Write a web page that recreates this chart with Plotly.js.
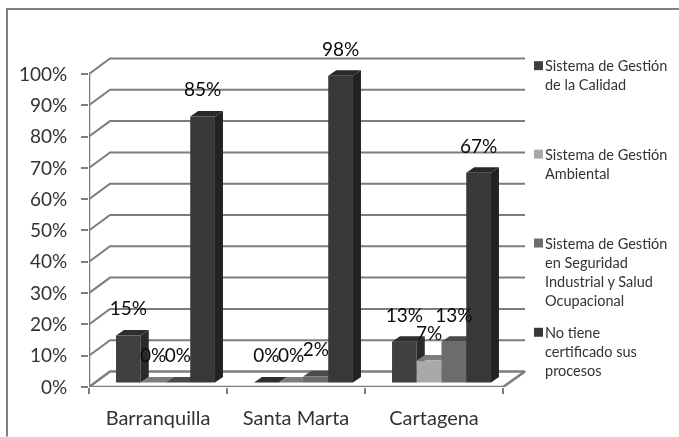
<!DOCTYPE html>
<html>
<head>
<meta charset="utf-8">
<script src="https://cdn.plot.ly/plotly-3.0.1.min.js"></script>
<style>html,body{margin:0;padding:0;background:#fff}#c{width:679px;height:437px;filter:blur(0.5px)}</style>
</head>
<body>
<div id="c"></div>
<script>
const categories = ['Barranquilla', 'Santa Marta', 'Cartagena'];
const calidad = [15, 0, 13];
const ambiental = [0, 0, 7];
const seguridad = [0, 2, 13];
const ninguno = [85, 98, 67];
const seriesValues = [calidad, ambiental, seguridad, ninguno];
const seriesNames = ['Sistema de Gestión de la Calidad', 'Sistema de Gestión Ambiental',
  'Sistema de Gestión en Seguridad Industrial y Salud Ocupacional', 'No tiene certificado sus procesos'];
const legendLines = [['Sistema de Gestión', 'de la Calidad'], ['Sistema de Gestión', 'Ambiental'],
  ['Sistema de Gestión', 'en Seguridad', 'Industrial y Salud', 'Ocupacional'],
  ['No tiene', 'certificado sus', 'procesos']];
const legendFirstY = [65.7, 154.3, 243.3, 332.7];
const frontColors = ['#3f3f3f', '#a9a9a9', '#6c6c6c', '#383838'];
const sideColors = ['#2a2a2a', '#6e6e6e', '#3e3e3e', '#222222'];
const topColors = ['#2e2e2e', '#7c7c7c', '#4a4a4a', '#282828'];
const yTicks = [0, 10, 20, 30, 40, 50, 60, 70, 80, 90, 100];

// plot frame in pixels
const L = 89, R = 530, T = 40, B = 387.5, W = 679, H = 437;
const pxX = 138, pxY = 3.135;
const xRange = [-0.5, (R - L) / pxX - 0.5];
const yRange = [0, (B - T) / pxY];
const grey = '#7d7d7d', ink = '#333333';
const fx = p => (p - L) / (R - L), fy = p => (B - p) / (B - T);

// 3D depth of walls and bars, in axis units
const wallDX = 21 / pxX, wallDY = 15.5 / pxY, wallEnd = (525 - L) / pxX - 0.5;
const barShiftX = 7.5 / pxX, barBase = 4.5 / pxY;
const bargap = 0.283, barW = (1 - bargap) / 4;
const barDX = 8 / pxX, barDY = 5.5 / pxY;

const traces = [];
yTicks.forEach(v => {
  const xs = [-0.5, -0.5 + wallDX, wallEnd], ys = [v, v + wallDY, v + wallDY];
  if (v === 0) { xs.push(2.5, -0.5); ys.push(v, v); }
  traces.push({x: xs, y: ys, mode: 'lines', line: {color: grey, width: v === 0 ? 2.5 : 2},
    hoverinfo: 'skip', showlegend: false, cliponaxis: false});
});
traces.push({x: [-0.5, -0.5], y: [0, 100], mode: 'lines', line: {color: grey, width: 2.5},
  hoverinfo: 'skip', showlegend: false, cliponaxis: false});

// side and top faces under the bar fronts
seriesValues.forEach((vals, s) => {
  const sx = [], sy = [], tx = [], ty = [];
  vals.forEach((v, i) => {
    const x0 = i + barShiftX + (s - 2) * barW, x1 = x0 + barW, y = v + barBase;
    sx.push(x1, x1 + barDX, x1 + barDX, x1, null);
    sy.push(barBase, barBase + barDY, y + barDY, y, null);
    tx.push(x0, x1, x1 + barDX, x0 + barDX, null);
    ty.push(y, y, y + barDY, y + barDY, null);
  });
  traces.push({x: sx, y: sy, mode: 'lines', fill: 'toself', fillcolor: sideColors[s], line: {width: 0},
    hoverinfo: 'skip', showlegend: false});
  traces.push({x: tx, y: ty, mode: 'lines', fill: 'toself', fillcolor: topColors[s], line: {width: 0},
    hoverinfo: 'skip', showlegend: false});
});

// bar fronts, on an overlay axis pair sitting on the floor
seriesValues.forEach((vals, s) => {
  traces.push({type: 'bar', x: [0, 1, 2], y: vals, name: seriesNames[s], xaxis: 'x2', yaxis: 'y2',
    marker: {color: frontColors[s], line: {width: 0}}, showlegend: false,
    customdata: categories, hovertemplate: '%{customdata}: %{y}%<extra>' + seriesNames[s] + '</extra>'});
});

// value labels
const labelLift = 25 / pxY;
seriesValues.forEach((vals, s) => {
  traces.push({x: [0, 1, 2].map(i => i + (s - 1.5) * barW), y: vals.map(v => v + labelLift),
    text: vals.map(v => v + '%'), mode: 'text', textposition: 'middle center',
    textfont: {family: 'Lato, sans-serif', size: 19, color: '#0a0a0a'}, xaxis: 'x2', yaxis: 'y2',
    hoverinfo: 'skip', showlegend: false, cliponaxis: false});
});

const annotations = [], shapes = [];
shapes.push({type: 'path', xref: 'paper', yref: 'paper',
  path: `M ${fx(7)} ${fy(437)} L ${fx(7)} ${fy(9)} L ${fx(679)} ${fy(9)}`,
  line: {color: '#808080', width: 2}});
legendLines.forEach((lines, s) => {
  const y0 = legendFirstY[s];
  shapes.push({type: 'rect', xref: 'paper', yref: 'paper', x0: fx(534), x1: fx(543), y0: fy(y0 - 4.5), y1: fy(y0 + 4.5),
    fillcolor: frontColors[s], line: {width: 0}});
  lines.forEach((t, k) => annotations.push({xref: 'paper', yref: 'paper', x: fx(543), y: fy(y0 + k * 19.2),
    xanchor: 'left', yanchor: 'middle', showarrow: false, text: t,
    font: {family: 'Lato, sans-serif', size: 14.5, color: ink}}));
});

const layout = {
  width: W, height: H, autosize: false, showlegend: false,
  margin: {l: L, r: W - R, t: T, b: H - B, pad: 0},
  paper_bgcolor: '#ffffff', plot_bgcolor: '#ffffff',
  barmode: 'group', bargap: bargap, bargroupgap: 0,
  xaxis: {type: 'linear', range: xRange, tickmode: 'array', tickvals: [0, 1, 2], ticktext: categories,
    ticks: '', showgrid: false, zeroline: false, showline: false, ticklabelstandoff: 17,
    tickfont: {family: 'Lato, sans-serif', size: 20, color: ink},
    minor: {tickmode: 'array', tickvals: [-0.5, 0.5, 1.5, 2.5], ticks: 'outside', ticklen: 6, tickwidth: 2, tickcolor: grey, showgrid: false}},
  yaxis: {range: yRange, tickmode: 'array', tickvals: yTicks, ticktext: yTicks.map(v => v + '%'),
    ticks: 'outside', ticklen: 7, tickwidth: 2, tickcolor: grey, showgrid: false, zeroline: false, showline: false,
    ticklabelstandoff: 10, tickfont: {family: 'Lato, sans-serif', size: 19, color: ink}},
  xaxis2: {overlaying: 'x', anchor: 'y2', range: [xRange[0] - barShiftX, xRange[1] - barShiftX], visible: false},
  yaxis2: {overlaying: 'y', anchor: 'x2', range: [yRange[0] - barBase, yRange[1] - barBase], visible: false},
  annotations: annotations, shapes: shapes
};
Plotly.newPlot('c', traces, layout, {displayModeBar: false, staticPlot: true});
</script>
</body>
</html>
